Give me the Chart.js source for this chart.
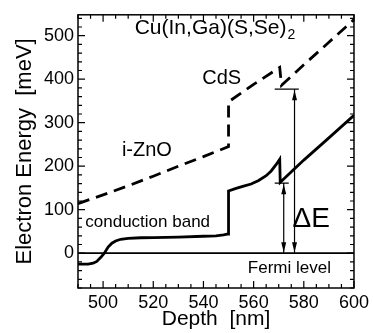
<!DOCTYPE html>
<html>
<head>
<meta charset="utf-8">
<script src="https://cdn.jsdelivr.net/npm/chart.js@4"></script>
<style>
  body { margin: 0; background: #fff; }
</style>
</head>
<body>
<canvas id="band" width="373" height="333"></canvas>
<script>
// conduction band (solid)
const bandDepth  = [490, 494, 496, 497.5, 499, 500.5, 502, 503.5, 505, 507, 510, 515, 520, 530, 540, 545, 548, 549.5, 550, 550, 553, 556, 559, 562, 565, 567, 569, 570.4, 570.6, 580, 590, 600];
const bandEnergy = [-25, -25, -23, -19, -10, 0, 14, 23, 28, 32, 34, 35.5, 36, 37, 39, 40, 42, 44, 44, 143, 149, 154, 159, 167, 178, 189, 204, 216, 163, 214, 265, 317];

// upper band (dashed)
const upperDepth  = [490, 500, 510, 520, 530, 540, 550, 550, 560, 570.4, 571.1, 580, 590, 600];
const upperEnergy = [114, 134, 155, 177, 200, 222, 245, 348, 388, 427, 386, 433, 485, 537];

// Fermi level
const fermiDepth  = [490, 600];
const fermiEnergy = [0, 0];

// ΔE arrows
const arrowDepth = [572, 576.3];
const arrowTop   = [161, 377];
const capLeft    = [568.4, 568.4];
const capRight   = [574, 578];

const xTicks = [500, 520, 540, 560, 580, 600];
const yTicks = [0, 100, 200, 300, 400, 500];

const pts = (xs, ys) => xs.map((x, i) => ({x: x, y: ys[i]}));

const FONT = '"Liberation Sans", Arial, sans-serif';

const labels = [
  {text: 'CdS', x: 539.5, y: 389, size: 20},
  {text: 'i-ZnO', x: 507.5, y: 223, size: 20},
  {text: 'conduction band', x: 492.9, y: 61, size: 17},
  {text: 'Fermi level', x: 557.7, y: -45.5, size: 17},
  {text: 'ΔE', x: 575.5, y: 61, size: 28}
];

const extras = {
  id: 'extras',
  afterDraw(chart) {
    const c = chart.ctx, xs = chart.scales.x, ys = chart.scales.y, a = chart.chartArea;
    c.save();
    c.strokeStyle = '#000';
    c.fillStyle = '#000';

    // frame
    c.lineWidth = 1.5;
    c.strokeRect(a.left, a.top, a.right - a.left, a.bottom - a.top);

    // inward ticks, all four sides
    c.lineWidth = 1.2;
    c.beginPath();
    for (let v = 490; v <= 600; v += 5) {
      const px = xs.getPixelForValue(v);
      const len = v % 20 === 0 ? 7 : 4;
      c.moveTo(px, a.bottom); c.lineTo(px, a.bottom - len);
      c.moveTo(px, a.top); c.lineTo(px, a.top + len);
    }
    for (let v = -80; v <= 540; v += 20) {
      const py = ys.getPixelForValue(v);
      const len = v % 100 === 0 ? 7 : 4;
      c.moveTo(a.left, py); c.lineTo(a.left + len, py);
      c.moveTo(a.right, py); c.lineTo(a.right - len, py);
    }
    c.stroke();

    // ΔE arrows and caps
    c.lineWidth = 1.2;
    arrowDepth.forEach((d, i) => {
      const px = xs.getPixelForValue(d);
      const top = ys.getPixelForValue(arrowTop[i]);
      const bot = ys.getPixelForValue(0);
      c.beginPath();
      c.moveTo(px, top); c.lineTo(px, bot);
      c.moveTo(xs.getPixelForValue(capLeft[i]), top);
      c.lineTo(xs.getPixelForValue(capRight[i]), top);
      c.stroke();
      c.beginPath();
      c.moveTo(px, top + 1); c.lineTo(px - 2.5, top + 11); c.lineTo(px + 2.5, top + 11); c.closePath();
      c.moveTo(px, bot - 1); c.lineTo(px - 2.5, bot - 11); c.lineTo(px + 2.5, bot - 11); c.closePath();
      c.fill();
    });

    // text
    c.textBaseline = 'alphabetic';
    c.textAlign = 'left';
    labels.forEach(l => {
      c.font = l.size + 'px ' + FONT;
      c.fillText(l.text, xs.getPixelForValue(l.x), ys.getPixelForValue(l.y));
    });
    const main = 'Cu(In,Ga)(S,Se)';
    const cx = xs.getPixelForValue(512.6), cy = ys.getPixelForValue(504.5);
    c.font = '21px ' + FONT;
    c.fillText(main, cx, cy);
    const w = c.measureText(main).width;
    c.font = '14px ' + FONT;
    c.fillText('2', cx + w + 1, cy + 5);
    c.restore();
  }
};

const lineSet = (data, width, dash) => ({
  data: data,
  borderColor: '#000',
  borderWidth: width,
  borderDash: dash,
  pointRadius: 0,
  tension: 0,
  fill: false
});

new Chart(document.getElementById('band'), {
  type: 'line',
  data: {
    datasets: [
      lineSet(pts(upperDepth, upperEnergy), 2.8, [12, 7]),
      lineSet(pts(bandDepth, bandEnergy), 2.8, []),
      lineSet(pts(fermiDepth, fermiEnergy), 1.8, [])
    ]
  },
  options: {
    responsive: false,
    animation: false,
    layout: { padding: { top: 12, right: 18, left: 0, bottom: 0 } },
    plugins: { legend: { display: false }, tooltip: { enabled: false } },
    scales: {
      x: {
        type: 'linear', min: 490, max: 600,
        afterBuildTicks: s => { s.ticks = xTicks.map(v => ({value: v})); },
        afterFit: s => { s.height = 45; },
        grid: { display: false, drawTicks: false }, border: { display: false },
        ticks: { color: '#000', padding: 4, maxRotation: 0, font: { family: FONT, size: 18 } },
        title: { display: true, text: 'Depth  [nm]', color: '#000', padding: { top: 0, bottom: 1 }, font: { family: FONT, size: 21 } }
      },
      y: {
        type: 'linear', min: -80, max: 548,
        afterBuildTicks: s => { s.ticks = yTicks.map(v => ({value: v})); },
        afterFit: s => { s.width = 78; },
        grid: { display: false, drawTicks: false }, border: { display: false },
        ticks: { color: '#000', padding: 4, font: { family: FONT, size: 18 } },
        title: { display: true, text: 'Electron Energy  [meV]', color: '#000', padding: { top: 12, bottom: 0 }, font: { family: FONT, size: 22 } }
      }
    }
  },
  plugins: [extras]
});
</script>
</body>
</html>
